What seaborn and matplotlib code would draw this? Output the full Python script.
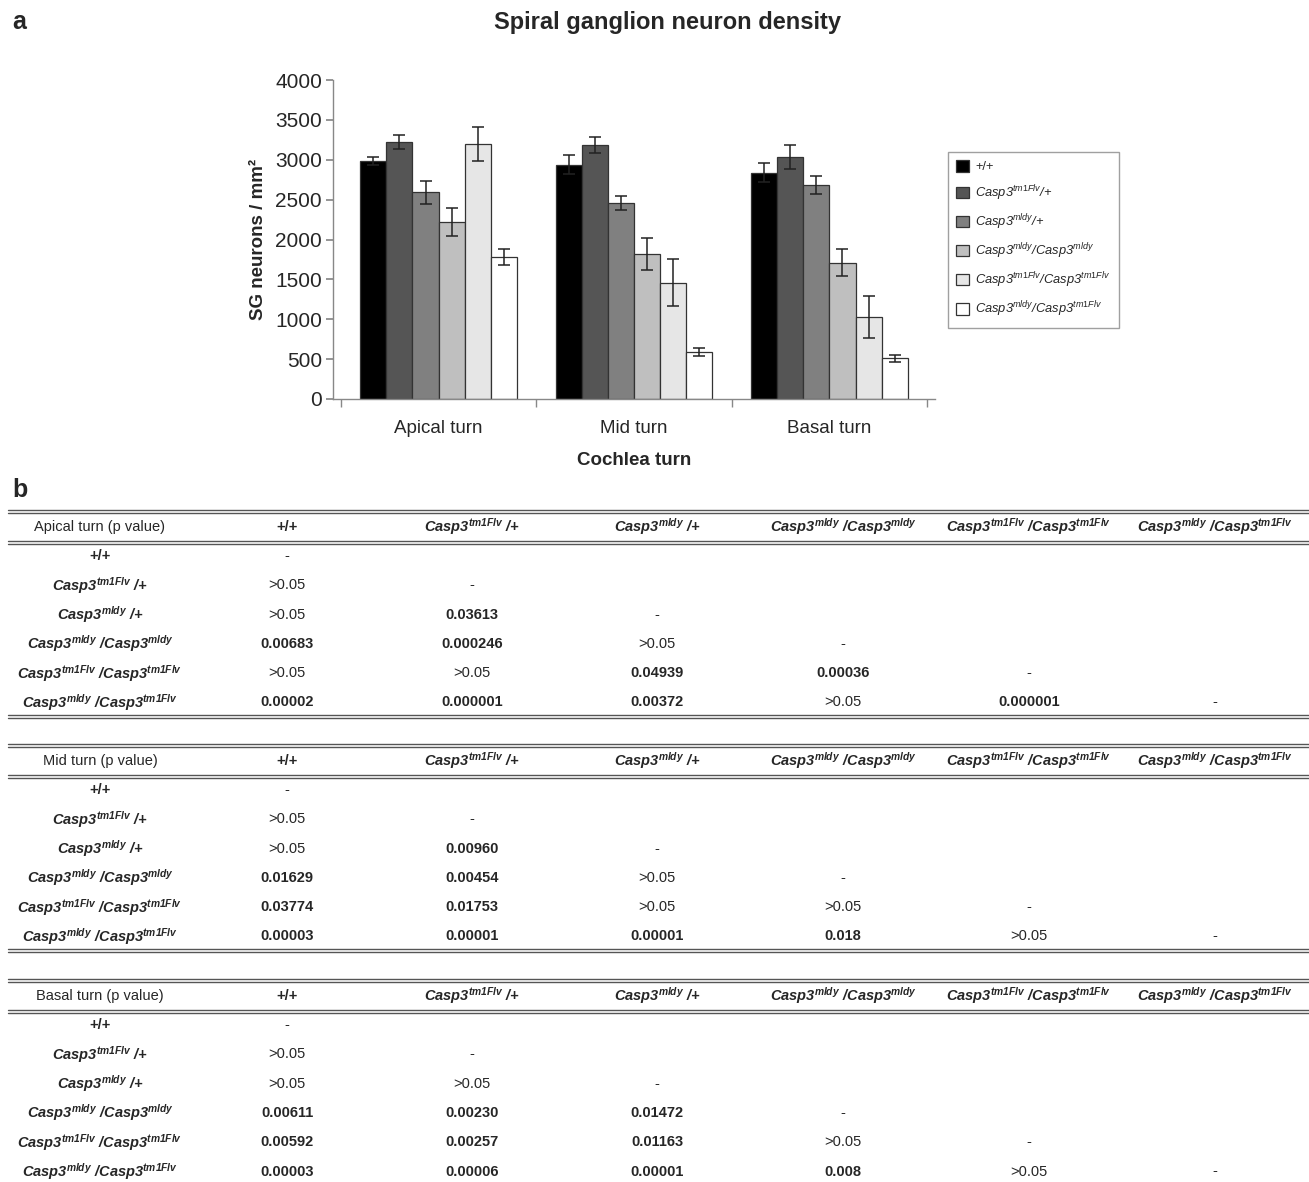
import matplotlib
matplotlib.use('Agg')
import matplotlib.pyplot as plt
import seaborn as sns
import pandas as pd
from matplotlib.ticker import FixedLocator
from matplotlib.patches import Patch

# data
turns = ['Apical turn', 'Mid turn', 'Basal turn']
genotypes = [
    r'+/+',
    r'Casp3$^{\mathit{tm1Flv}}$/+',
    r'Casp3$^{\mathit{mldy}}$/+',
    r'Casp3$^{\mathit{mldy}}$/Casp3$^{\mathit{mldy}}$',
    r'Casp3$^{\mathit{tm1Flv}}$/Casp3$^{\mathit{tm1Flv}}$',
    r'Casp3$^{\mathit{mldy}}$/Casp3$^{\mathit{tm1Flv}}$',
]
colors = ['#000000', '#555555', '#808080', '#bfbfbf', '#e6e6e6', '#ffffff']

# density per genotype, [apical, mid, basal]
density = [
    [2990, 2940, 2840],
    [3220, 3180, 3030],
    [2590, 2460, 2680],
    [2220, 1820, 1710],
    [3200, 1460, 1030],
    [1780, 590, 510],
]
sem = [
    [50, 120, 115],
    [90, 100, 150],
    [145, 90, 110],
    [170, 200, 170],
    [215, 300, 260],
    [100, 45, 40],
]

# p-value tables (lower triangle)
row_labels = [
    r'+/+',
    r'Casp3$^{\mathbf{tm1Flv}}$ /+',
    r'Casp3$^{\mathbf{mldy}}$ /+',
    r'Casp3$^{\mathbf{mldy}}$ /Casp3$^{\mathbf{mldy}}$',
    r'Casp3$^{\mathbf{tm1Flv}}$ /Casp3$^{\mathbf{tm1Flv}}$',
    r'Casp3$^{\mathbf{mldy}}$ /Casp3$^{\mathbf{tm1Flv}}$',
]
table_titles = ['Apical turn (p value)', 'Mid turn (p value)', 'Basal turn (p value)']
apical_p = [
    ['-'],
    ['>0.05', '-'],
    ['>0.05', '0.03613', '-'],
    ['0.00683', '0.000246', '>0.05', '-'],
    ['>0.05', '>0.05', '0.04939', '0.00036', '-'],
    ['0.00002', '0.000001', '0.00372', '>0.05', '0.000001', '-'],
]
mid_p = [
    ['-'],
    ['>0.05', '-'],
    ['>0.05', '0.00960', '-'],
    ['0.01629', '0.00454', '>0.05', '-'],
    ['0.03774', '0.01753', '>0.05', '>0.05', '-'],
    ['0.00003', '0.00001', '0.00001', '0.018', '>0.05', '-'],
]
basal_p = [
    ['-'],
    ['>0.05', '-'],
    ['>0.05', '>0.05', '-'],
    ['0.00611', '0.00230', '0.01472', '-'],
    ['0.00592', '0.00257', '0.01163', '>0.05', '-'],
    ['0.00003', '0.00006', '0.00001', '0.008', '>0.05', '-'],
]

sns.set_theme(style='white')
plt.rcParams['font.family'] = ['Liberation Sans', 'DejaVu Sans']
plt.rcParams['mathtext.fontset'] = 'custom'
plt.rcParams['mathtext.rm'] = 'Liberation Sans'
plt.rcParams['mathtext.it'] = 'Liberation Sans:italic'
plt.rcParams['mathtext.bf'] = 'Liberation Sans:italic:bold'

W, H = 1309, 1182
fig = plt.figure(figsize=(W / 100, H / 100), dpi=100)

rows = []
for g, vals in zip(genotypes, density):
    for t, v in zip(turns, vals):
        rows.append({'turn': t, 'genotype': g, 'density': v})
df = pd.DataFrame(rows)

ax = fig.add_axes([333 / W, 1 - 399 / H, (935 - 333) / W, (399 - 80) / H])
sns.barplot(data=df, x='turn', y='density', hue='genotype', hue_order=genotypes,
            palette=colors, edgecolor='#333333', linewidth=0.9, errorbar=None,
            width=0.8, ax=ax)
bar_containers = list(ax.containers)
for cont, errs in zip(bar_containers, sem):
    xs = [b.get_x() + b.get_width() / 2 for b in cont.patches]
    ys = [b.get_height() for b in cont.patches]
    ax.errorbar(xs, ys, yerr=errs, fmt='none', ecolor='#222222', elinewidth=1.1,
                capsize=4.5, capthick=1.1)

ax.set_ylim(0, 4000)
ax.set_yticks(range(0, 4001, 500))
ax.tick_params(axis='y', labelsize=15, length=5, color='#888888', left=True, pad=3)
ax.tick_params(axis='x', which='major', labelsize=13.5, length=0, pad=15)
ax.xaxis.set_minor_locator(FixedLocator([-0.5, 0.5, 1.5, 2.5]))
ax.tick_params(axis='x', which='minor', length=6, color='#888888', bottom=True)
for s in ['top', 'right']:
    ax.spines[s].set_visible(False)
for s in ['left', 'bottom']:
    ax.spines[s].set_color('#888888')
    ax.spines[s].set_linewidth(1.0)
ax.set_ylabel('SG neurons / mm²', fontsize=13.5, fontweight='bold', labelpad=6)
ax.set_xlabel('Cochlea turn', fontsize=13.5, fontweight='bold', labelpad=11)

handles = [Patch(facecolor=c, edgecolor='#333333', linewidth=0.9) for c in colors]
leg = ax.legend(handles, genotypes, loc='upper left', bbox_to_anchor=(948 / W, 1 - 152 / H),
                bbox_transform=fig.transFigure, frameon=True, fancybox=False,
                edgecolor='#888888', prop={'size': 9.3, 'style': 'italic'},
                handlelength=0.95, handleheight=0.95, handletextpad=0.5,
                labelspacing=0.74, borderpad=0.65, borderaxespad=0)
leg.get_texts()[0].set_style('normal')
leg.get_frame().set_linewidth(1.0)

fig.text(668 / W, 1 - 22 / H, 'Spiral ganglion neuron density', ha='center', va='center',
         fontsize=17, fontweight='bold')
fig.text(12 / W, 1 - 22 / H, 'a', ha='left', va='center', fontsize=18, fontweight='bold')
fig.text(12 / W, 1 - 490 / H, 'b', ha='left', va='center', fontsize=18, fontweight='bold')

# tables
tab = fig.add_axes([0, 0, 1, 1])
tab.set_xlim(0, W)
tab.set_ylim(H, 0)
tab.axis('off')

col_x = [100, 287, 472, 657, 843, 1029, 1215]
tops = [511, 745, 980]
fs = 10.5
lc = '#555555'
for top, title, pvals in zip(tops, table_titles, [apical_p, mid_p, basal_p]):
    for yy in (top - 1, top + 1.5, top + 30, top + 32.5, top + 204, top + 206.5):
        if yy < H:
            tab.plot([8, W], [yy, yy], color=lc, lw=1.0)
    tab.text(col_x[0], top + 16, title, ha='center', va='center', fontsize=fs)
    for j, lab in enumerate(row_labels):
        tab.text(col_x[j + 1], top + 16, lab, ha='center', va='center', fontsize=fs,
                 fontweight='bold', fontstyle='normal' if j == 0 else 'italic')
    for i, lab in enumerate(row_labels):
        y = top + 45 + i * 29.3
        tab.text(col_x[0], y, lab, ha='center', va='center', fontsize=fs,
                 fontweight='bold', fontstyle='normal' if i == 0 else 'italic')
        for j, v in enumerate(pvals[i]):
            bold = v not in ('-', '>0.05')
            tab.text(col_x[j + 1], y, v, ha='center', va='center', fontsize=fs,
                     fontweight='bold' if bold else 'normal')

fig.savefig('out.png', dpi=100)
